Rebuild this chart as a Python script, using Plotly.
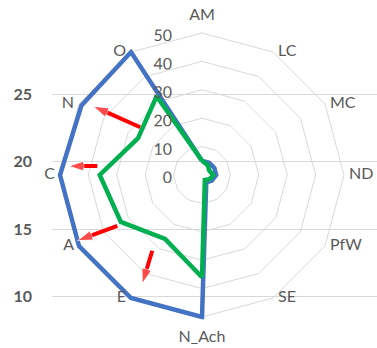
import plotly.graph_objects as go

categories = ["AM", "LC", "MC", "ND", "PfW", "SE", "N_Ach", "E", "A", "C", "N", "O"]
blue_values = [5, 5, 5, 5, 4, 3, 50, 50, 50, 50, 49, 50]
green_values = [5, 4, 3, 4, 3, 2, 36, 26, 33, 36, 26, 32]
radial_ticks = [0, 10, 20, 30, 40, 50]
left_ticks = [10, 15, 20, 25]

# arrows (polar: degrees clockwise from top, radius in radial-axis units)
arrow_theta_start = [307.7, 274.9, 239.0, 213.3]
arrow_r_start = [27.5, 37.0, 34.8, 31.9]
arrow_theta_end = [302.3, 273.8, 242.2, 208.8]
arrow_r_end = [45.3, 47.1, 49.6, 43.7]

GRID = "#d9d9d9"
TEXT = "#595959"
FONT = "Lato"
R_MAX = radial_ticks[-1]
R_RANGE = R_MAX * 1.02          # a little headroom so thick lines on the outer ring are not clipped

# layout geometry (pixels)
W, H, ML = 377, 348, 52
CX, CY, R_PX = 202, 175, 142 * R_RANGE / R_MAX
PW = W - ML
dom_x = [(CX - R_PX - ML) / PW, (CX + R_PX - ML) / PW]
dom_y = [(H - CY - R_PX) / H, (H - CY + R_PX) / H]

fig = go.Figure()

# invisible cartesian trace so the left axis exists
fig.add_trace(go.Scatter(x=[0, 1], y=[left_ticks[0], left_ticks[-1]], mode="markers",
                         marker=dict(opacity=0), hoverinfo="skip", showlegend=False))

fig.add_trace(go.Scatterpolar(r=blue_values + blue_values[:1], theta=categories + categories[:1],
                              mode="lines", line=dict(color="#4472C4", width=4.5),
                              showlegend=False, subplot="polar"))
fig.add_trace(go.Scatterpolar(r=green_values + green_values[:1], theta=categories + categories[:1],
                              mode="lines", line=dict(color="#00B050", width=4.5),
                              showlegend=False, subplot="polar"))

for ts, rs, te, re_ in zip(arrow_theta_start, arrow_r_start, arrow_theta_end, arrow_r_end):
    fig.add_trace(go.Scatterpolar(r=[rs, re_], theta=[ts, te], mode="lines+markers",
                                  line=dict(color="#FF0000", width=4),
                                  marker=dict(symbol=["circle", "arrow"], size=[0, 16],
                                              color="#FF0000", angleref="previous"),
                                  cliponaxis=False, showlegend=False, subplot="polar2"))

# category labels placed Excel-style around the outer ring (invisible markers set the gap)
label_pos, label_gap = [], []
for i, c in enumerate(categories):
    ang = i * 360 / len(categories)
    if ang == 0:
        label_pos.append("top center"); label_gap.append(13)
    elif ang == 180:
        label_pos.append("bottom center"); label_gap.append(19)
    elif ang < 180:
        label_pos.append("middle right"); label_gap.append(6.4)
    else:
        label_pos.append("middle left"); label_gap.append(6.4)

fig.add_trace(go.Scatterpolar(r=[R_MAX] * len(categories), theta=categories,
                              mode="markers+text", text=categories,
                              marker=dict(size=label_gap, opacity=0),
                              textposition=label_pos, cliponaxis=False, hoverinfo="skip",
                              textfont=dict(family=FONT, size=16, color=TEXT),
                              showlegend=False, subplot="polar"))

fig.update_layout(
    width=W, height=H,
    margin=dict(l=ML, r=0, t=0, b=0),
    paper_bgcolor="white", plot_bgcolor="white",
    font=dict(family=FONT, color=TEXT, size=16),
    xaxis=dict(range=[0, 1], visible=False, domain=[0, 1]),
    yaxis=dict(range=[6.2, 31.98], tickvals=left_ticks, showgrid=True, gridcolor=GRID,
               gridwidth=1.3, zeroline=False, showline=False, ticks="",
               ticklabelstandoff=19,
               tickfont=dict(family=FONT, size=16, color=TEXT, weight="bold")),
    polar=dict(
        domain=dict(x=dom_x, y=dom_y),
        bgcolor="rgba(0,0,0,0)",
        gridshape="linear",
        angularaxis=dict(categoryarray=categories, categoryorder="array", rotation=90,
                         direction="clockwise", showgrid=False, showline=False,
                         ticks="", showticklabels=False),
        radialaxis=dict(range=[0, R_RANGE], tickvals=radial_ticks, angle=90, tickangle=89.9,
                        side="counterclockwise", showline=False, gridcolor=GRID,
                        gridwidth=1.3, ticks="outside", ticklen=15,
                        tickcolor="rgba(0,0,0,0)",
                        tickfont=dict(family=FONT, size=16, color=TEXT)),
    ),
    polar2=dict(
        domain=dict(x=dom_x, y=dom_y),
        bgcolor="rgba(0,0,0,0)",
        angularaxis=dict(type="linear", rotation=90, direction="clockwise", visible=False,
                         showgrid=False, showline=False),
        radialaxis=dict(range=[0, R_RANGE], visible=False, showgrid=False, showline=False),
    ),
)

fig.write_html("out.html", config={"displayModeBar": False},
               post_script="document.body.style.margin='0';")
